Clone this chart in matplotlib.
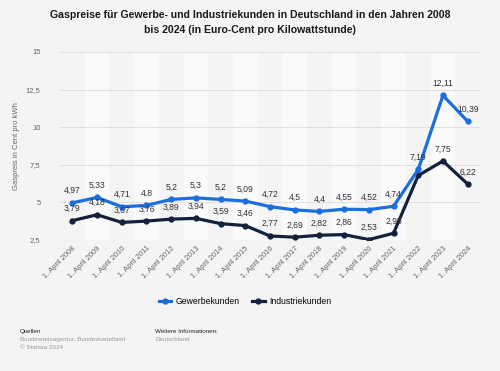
import matplotlib.pyplot as plt

plt.rcParams['font.family'] = ['Liberation Sans', 'DejaVu Sans']

years = list(range(2008, 2025))
labels = ["1. April %d" % y for y in years]
gewerbe = [4.97, 5.33, 4.71, 4.8, 5.2, 5.3, 5.2, 5.09, 4.72, 4.5, 4.4, 4.55, 4.52, 4.74, 7.19, 12.11, 10.39]
industrie = [3.79, 4.18, 3.67, 3.76, 3.89, 3.94, 3.59, 3.46, 2.77, 2.69, 2.82, 2.86, 2.53, 2.95, 6.79, 7.75, 6.22]
hidden_industrie = [2022]

blue = '#1a6fdf'
dark = '#14213b'
bg = '#f4f4f4'

def fmt(v):
    return ('%g' % v).replace('.', ',')

fig = plt.figure(figsize=(5, 3.71), dpi=100, facecolor=bg)
ax = fig.add_axes([0.12, 0.353, 0.84, 0.507])
ax.set_facecolor(bg)

x = list(range(len(years)))
for i in x:
    if i % 2 == 1:
        ax.axvspan(i - 0.5, i + 0.5, color='white', alpha=0.55, lw=0, zorder=0)

for t in [2.5, 5, 7.5, 10, 12.5, 15]:
    ax.axhline(t, color='#e0e0e0', lw=0.7, zorder=1)

ax.plot(x, gewerbe, color=blue, lw=2.3, marker='o', ms=3.5, zorder=4, label='Gewerbekunden')
ax.plot(x, industrie, color=dark, lw=2.3, marker='o', ms=3.5, zorder=3, label='Industriekunden')

for i, v in enumerate(gewerbe):
    ax.annotate(fmt(v), (i, v), xytext=(0, 7), textcoords='offset points',
                ha='center', fontsize=6.2, color='#333333', zorder=5)
for i, v in enumerate(industrie):
    if years[i] in hidden_industrie:
        continue
    ax.annotate(fmt(v), (i, v), xytext=(0, 7), textcoords='offset points',
                ha='center', fontsize=6.2, color='#333333', zorder=5)

ax.set_xlim(-0.5, len(years) - 0.5)
ax.set_ylim(2.5, 15)
ax.set_yticks([2.5, 5, 7.5, 10, 12.5, 15])
ax.set_yticklabels(['2,5', '5', '7,5', '10', '12,5', '15'])
ax.set_xticks(x)
ax.set_xticklabels(labels, rotation=45, ha='right', rotation_mode='anchor')
ax.tick_params(axis='both', length=0, labelsize=5.5, colors='#666666')
ax.tick_params(axis='y', pad=14)
for s in ax.spines.values():
    s.set_visible(False)
ax.set_ylabel('Gaspreis in Cent pro kWh', fontsize=5.5, color='#666666', labelpad=4)

fig.text(0.5, 0.972, 'Gaspreise für Gewerbe- und Industriekunden in Deutschland in den Jahren 2008\n'
         'bis 2024 (in Euro-Cent pro Kilowattstunde)', ha='center', va='top',
         fontsize=7.6, fontweight='bold', color='#1a1a1a', linespacing=1.6)

fig.legend(loc='center', bbox_to_anchor=(0.49, 0.188), ncol=2, frameon=False,
           fontsize=6.2, handlelength=1.4, columnspacing=1.5, handletextpad=0.5)

fig.text(0.04, 0.102, 'Quellen', fontsize=4.5, color='#222222')
fig.text(0.04, 0.080, 'Bundesnetzagentur; Bundeskartellamt', fontsize=4.5, color='#999999')
fig.text(0.04, 0.058, '© Statista 2024', fontsize=4.5, color='#999999')
fig.text(0.31, 0.102, 'Weitere Informationen:', fontsize=4.5, color='#222222')
fig.text(0.31, 0.080, 'Deutschland', fontsize=4.5, color='#999999')

plt.savefig('out.png', dpi=100, facecolor=bg)
